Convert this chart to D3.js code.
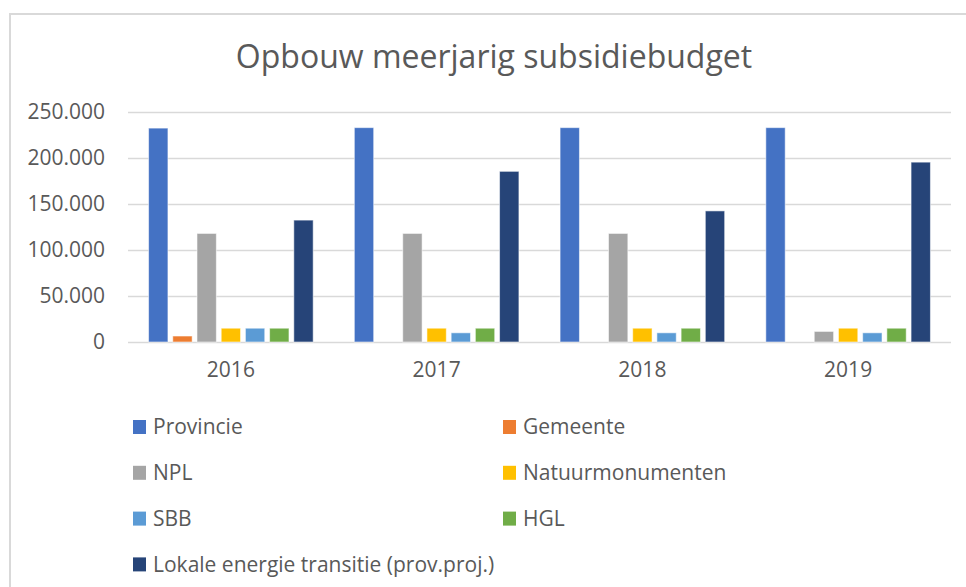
<!DOCTYPE html>
<html lang="nl">
<head>
  <meta charset="UTF-8">
  <title>Opbouw meerjarig subsidiebudget</title>
  <script src="https://d3js.org/d3.v7.min.js"></script>
  <style>
    body {
      margin: 0;
      background: #fff;
      font-family: "Open Sans", sans-serif;
    }
    svg { display: block; }
    .axis text { fill: #595959; font-size: 21px; font-family: "Open Sans", sans-serif; }
    .legend text { fill: #595959; font-size: 21px; }
  </style>
</head>
<body>
  <svg id="chart" width="966" height="587"></svg>

  <script>
    // data
    const years = ["2016", "2017", "2018", "2019"];
    const seriesNames = ["Provincie", "Gemeente", "NPL", "Natuurmonumenten", "SBB", "HGL",
      "Lokale energie transitie (prov.proj.)"];
    const provincie = [232500, 233000, 233000, 233000];
    const gemeente = [6500, 0, 0, 0];
    const npl = [118000, 118000, 118000, 11500];
    const natuurmonumenten = [15000, 15000, 15000, 15000];
    const sbb = [15000, 10000, 10000, 10000];
    const hgl = [15000, 15000, 15000, 15000];
    const lokale = [132500, 185500, 142500, 195500];
    const yTicks = [0, 50000, 100000, 150000, 200000, 250000];
    const colors = ["#4472C4", "#ED7D31", "#A5A5A5", "#FFC000", "#5B9BD5", "#70AD47", "#264478"];

    const seriesValues = [provincie, gemeente, npl, natuurmonumenten, sbb, hgl, lokale];

    const svg = d3.select("#chart");

    // outer frame
    svg.append("rect")
      .attr("x", 10).attr("y", 14)
      .attr("width", 980).attr("height", 600)
      .attr("fill", "none")
      .attr("stroke", "#d9d9d9")
      .attr("stroke-width", 2);

    svg.append("text")
      .attr("x", 494).attr("y", 68)
      .attr("text-anchor", "middle")
      .attr("fill", "#595959")
      .style("font-size", "32px")
      .text("Opbouw meerjarig subsidiebudget");

    const x0 = d3.scaleBand().domain(years).range([128, 951]);
    const x1 = d3.scaleBand().domain(seriesNames)
      .range([0, x0.bandwidth()])
      .paddingInner(0.2)
      .paddingOuter(0.85);
    const y = d3.scaleLinear().domain([0, 250000]).range([342, 112]);

    const nl = d3.formatLocale({ decimal: ",", thousands: ".", grouping: [3], currency: ["€", ""] });

    // y axis with gridlines
    const yAxis = svg.append("g")
      .attr("class", "axis")
      .attr("transform", "translate(128,0)")
      .call(d3.axisLeft(y).tickValues(yTicks).tickFormat(nl.format(",d"))
        .tickSize(-(951 - 128)).tickPadding(23));
    yAxis.select(".domain").remove();
    yAxis.selectAll("line").attr("stroke", "#d9d9d9").attr("stroke-width", 1.5);

    // bars
    const groups = svg.append("g").selectAll("g")
      .data(years)
      .join("g")
        .attr("transform", d => `translate(${x0(d)},0)`);

    groups.selectAll("rect")
      .data((yr, i) => seriesNames.map((s, k) => ({ s, k, v: seriesValues[k][i] })).filter(d => d.v > 0))
      .join("rect")
        .attr("x", d => x1(d.s))
        .attr("width", x1.bandwidth())
        .attr("y", d => y(d.v))
        .attr("height", d => y(0) - y(d.v))
        .attr("fill", d => colors[d.k])
        .attr("stroke", "#fff")
        .attr("stroke-opacity", 0.55)
        .attr("stroke-width", 1);

    // x axis
    const xAxis = svg.append("g")
      .attr("class", "axis")
      .attr("transform", "translate(0,342)")
      .call(d3.axisBottom(x0).tickSize(0).tickPadding(20));
    xAxis.select(".domain").remove();

    // legend, two columns
    const legend = svg.append("g").attr("class", "legend");
    const item = legend.selectAll("g")
      .data(seriesNames)
      .join("g")
        .attr("transform", (d, i) => `translate(${i % 2 === 0 ? 133 : 503},${427 + Math.floor(i / 2) * 45.8})`);
    item.append("rect")
      .attr("x", 0).attr("y", -7)
      .attr("width", 13).attr("height", 14)
      .attr("fill", (d, i) => colors[i]);
    item.append("text")
      .attr("x", 20).attr("dy", "0.35em")
      .text(d => d);
  </script>
</body>
</html>
